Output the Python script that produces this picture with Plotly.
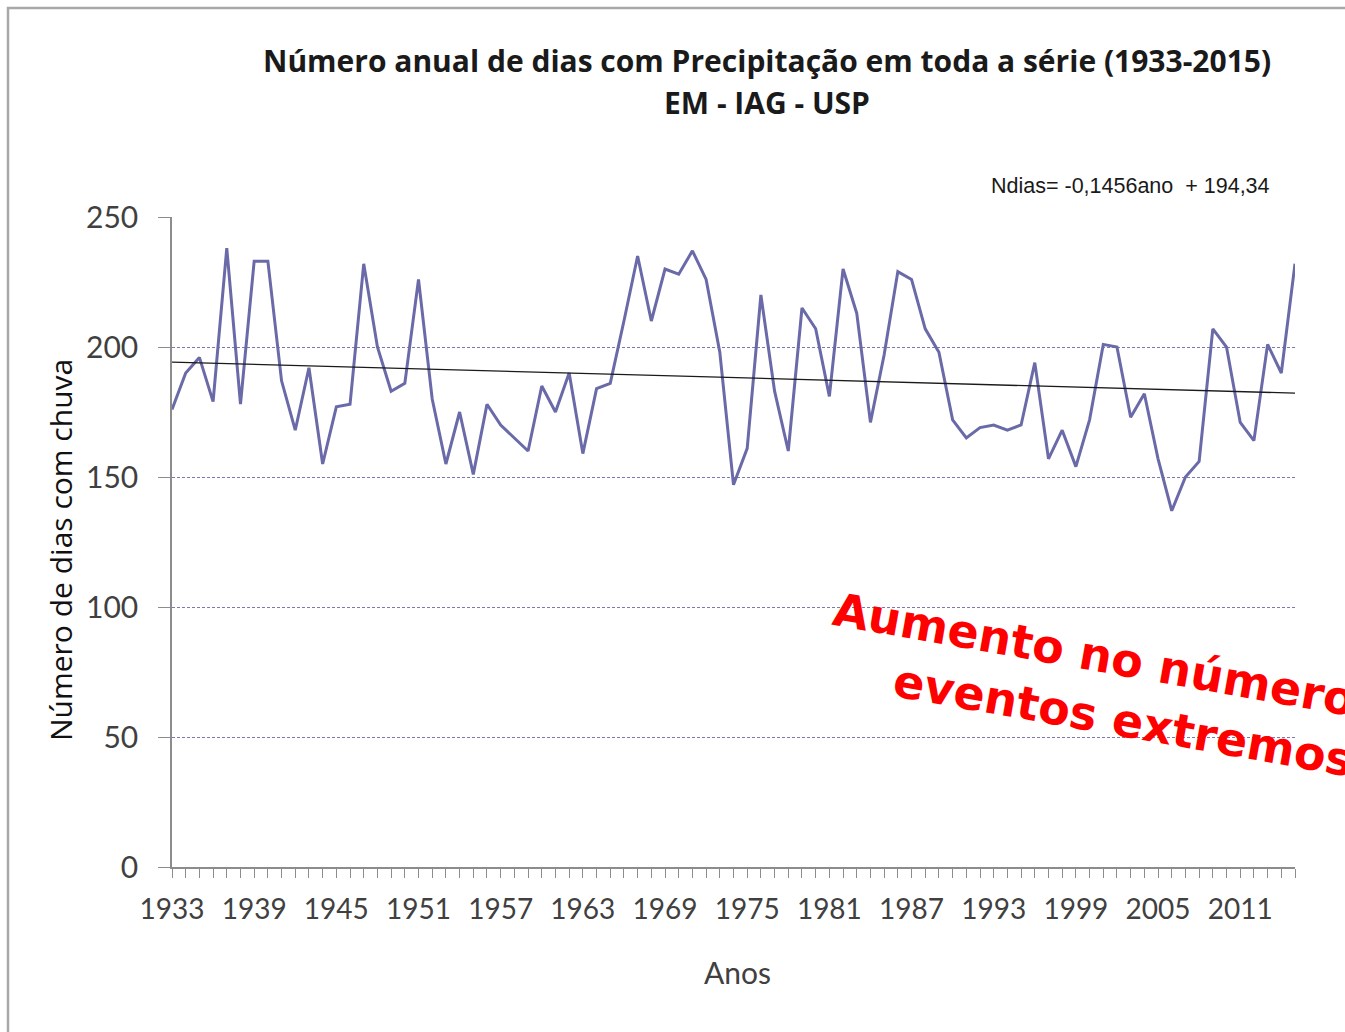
import plotly.graph_objects as go

years = list(range(1933, 2016))
dias = [176, 190, 196, 179, 238, 178, 233, 233, 187, 168,
        192, 155, 177, 178, 232, 200, 183, 186, 226, 180,
        155, 175, 151, 178, 170, 165, 160, 185, 175, 190,
        159, 184, 186, 210, 235, 210, 230, 228, 237, 226,
        198, 147, 161, 220, 183, 160, 215, 207, 181, 230,
        213, 171, 197, 229, 226, 207, 198, 172, 165, 169,
        170, 168, 170, 194, 157, 168, 154, 172, 201, 200,
        173, 182, 157, 137, 150, 156, 207, 200, 171, 164,
        201, 190, 232]

slope = -0.1456
intercept = 194.34
trend = [slope * (i + 1) + intercept for i in range(len(years))]

y_ticks = [0, 50, 100, 150, 200, 250]

title_l1 = "Número anual de dias com Precipitação em toda a série (1933-2015)"
title_l2 = "EM - IAG - USP"
eq_text = "Ndias= -0,1456ano  + 194,34"
red_text = "Aumento no número de<br>eventos extremos"

fig = go.Figure()
fig.add_trace(go.Scatter(x=years, y=dias, mode="lines",
                         line=dict(color="#6a6aa8", width=3),
                         cliponaxis=False, showlegend=False))
fig.add_trace(go.Scatter(x=years, y=trend, mode="lines",
                         line=dict(color="#1a1a1a", width=1.3),
                         showlegend=False))

W, H = 1345, 1032
L, R, T, B = 172, 1295, 217, 867
pw, ph = R - L, B - T

def px(x):
    return (x - L) / pw

def py(y):
    return (B - y) / ph

fig.update_layout(
    width=W, height=H,
    margin=dict(l=L, r=W - R, t=T, b=H - B),
    paper_bgcolor="white", plot_bgcolor="white",
    font=dict(family="Lato", color="#404040"),
    xaxis=dict(range=[1933, 2015], tick0=1933, dtick=6,
               showgrid=False, zeroline=False,
               showline=True, linecolor="#8c8c8c", linewidth=1.5,
               ticks="outside", ticklen=9, tickcolor="#8c8c8c",
               ticklabelstandoff=8,
               tickfont=dict(size=28, family="Lato", color="#404040"),
               minor=dict(dtick=1, tick0=1933, ticks="outside", ticklen=9,
                          tickcolor="#8c8c8c", showgrid=False)),
    yaxis=dict(range=[0, 250], tickvals=y_ticks,
               showgrid=True, gridcolor="#7a7ab0", gridwidth=1,
               griddash="3px,2px", zeroline=False,
               showline=True, linecolor="#8c8c8c", linewidth=1.5,
               ticks="outside", ticklen=12, tickcolor="#8c8c8c",
               ticklabelstandoff=14,
               tickfont=dict(size=30, family="Lato", color="#404040")),
    shapes=[dict(type="rect", xref="paper", yref="paper",
                 x0=px(8), x1=px(1400), y0=py(1100), y1=py(8),
                 line=dict(color="#a8a8a8", width=2.5), layer="below")],
    annotations=[
        dict(text="<b>" + title_l1 + "</b>", xref="paper", yref="paper",
             x=px(767), y=py(60), xanchor="center", yanchor="middle",
             showarrow=False, font=dict(size=30, family="Open Sans", color="#1a1a1a")),
        dict(text="<b>" + title_l2 + "</b>", xref="paper", yref="paper",
             x=px(767), y=py(103), xanchor="center", yanchor="middle",
             showarrow=False, font=dict(size=30, family="Open Sans", color="#1a1a1a")),
        dict(text=eq_text, xref="paper", yref="paper",
             x=px(1130), y=py(186), xanchor="center", yanchor="middle",
             showarrow=False, font=dict(size=21.5, family="Liberation Sans", color="#1a1a1a")),
        dict(text="Número de dias com chuva", xref="paper", yref="paper",
             x=px(60), y=py(550), xanchor="center", yanchor="middle",
             textangle=-90, showarrow=False,
             font=dict(size=30, family="Open Sans", color="#111111")),
        dict(text="Anos", xref="paper", yref="paper",
             x=px(737), y=py(972), xanchor="center", yanchor="middle",
             showarrow=False, font=dict(size=30, family="Lato", color="#404040")),
        dict(text="<b>" + red_text + "</b>", xref="paper", yref="paper",
             x=px(1128), y=py(691), xanchor="center", yanchor="middle",
             textangle=10, showarrow=False, align="center",
             font=dict(size=46, family="DejaVu Sans", color="#ff0000")),
    ],
)

fig.write_html("out.html", config={"displayModeBar": False},
               post_script="document.body.style.margin='0';")
